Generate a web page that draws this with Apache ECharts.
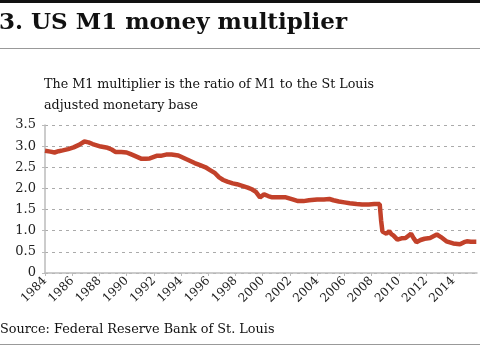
<!DOCTYPE html>
<html><head><meta charset="utf-8">
<script src="https://cdn.jsdelivr.net/npm/echarts@6/dist/echarts.min.js"></script>
<style>html,body{margin:0;padding:0;background:#fff}#c{width:480px;height:349px}</style>
</head><body><div id="c"></div>
<script>
const titleText = "3. US M1 money multiplier";
const subtitleText = "The M1 multiplier is the ratio of M1 to the St Louis\nadjusted monetary base";
const sourceText = "Source: Federal Reserve Bank of St. Louis";
const yTicks = [0, 0.5, 1.0, 1.5, 2.0, 2.5, 3.0, 3.5];
const xTicks = [1984,1986,1988,1990,1992,1994,1996,1998,2000,2002,2004,2006,2008,2010,2012,2014];
const years = [1984.0,1984.4,1984.7,1985.0,1985.3,1985.7,1986.1,1986.5,1986.9,1987.2,1987.5,1987.8,1988.1,1988.6,1988.9,1989.2,1989.6,1990.0,1990.3,1990.6,1991.1,1991.4,1991.7,1992.2,1992.5,1992.9,1993.3,1993.8,1994.2,1994.6,1995.0,1995.4,1995.8,1996.1,1996.5,1996.8,1997.1,1997.4,1997.8,1998.1,1998.5,1998.9,1999.2,1999.5,1999.8,2000.1,2000.4,2000.7,2001.2,2001.7,2002.2,2002.6,2003.0,2003.4,2004.0,2004.5,2004.9,2005.2,2005.6,2006.0,2006.4,2006.9,2007.3,2007.8,2008.2,2008.6,2008.7,2008.8,2008.9,2009.1,2009.3,2009.45,2009.6,2009.9,2010.2,2010.5,2010.9,2011.1,2011.3,2011.6,2011.9,2012.3,2012.8,2013.1,2013.5,2014.0,2014.5,2014.8,2015.0,2015.3,2015.7];
const multiplier = [2.89,2.87,2.85,2.88,2.90,2.93,2.97,3.03,3.11,3.09,3.05,3.02,2.99,2.96,2.92,2.86,2.86,2.85,2.81,2.77,2.70,2.70,2.71,2.77,2.77,2.80,2.80,2.78,2.72,2.66,2.60,2.55,2.50,2.44,2.36,2.26,2.20,2.16,2.12,2.10,2.06,2.02,1.98,1.92,1.79,1.86,1.82,1.79,1.79,1.79,1.74,1.70,1.70,1.72,1.74,1.74,1.75,1.72,1.69,1.67,1.65,1.63,1.62,1.62,1.63,1.63,1.25,0.98,0.94,0.93,0.99,0.92,0.89,0.79,0.82,0.83,0.93,0.82,0.73,0.78,0.81,0.83,0.91,0.85,0.75,0.70,0.68,0.73,0.75,0.74,0.74];

const F = "'DejaVu Serif', serif";
const chart = echarts.init(document.getElementById('c'), null, {renderer:'canvas'});
chart.setOption({
  animation:false,
  backgroundColor:'#fff',
  title:[
    {text:titleText, left:-6, top:7, textStyle:{fontFamily:F, fontWeight:'bold', fontSize:23, color:'#111'}},
    {text:subtitleText, left:39, top:69, textStyle:{fontFamily:F, fontWeight:'normal', fontSize:12.7, color:'#111', lineHeight:21}},
    {text:sourceText, left:-5, top:318, textStyle:{fontFamily:F, fontWeight:'normal', fontSize:12.8, color:'#111'}}
  ],
  graphic:[
    {type:'rect', shape:{x:0,y:0,width:480,height:3}, style:{fill:'#111'}},
    {type:'rect', shape:{x:0,y:48,width:480,height:1}, style:{fill:'#999'}},
    {type:'rect', shape:{x:0,y:344,width:480,height:1}, style:{fill:'#999'}}
  ],
  grid:{left:45, right:3, top:125, bottom:76},
  xAxis:{type:'value', min:1984, max:2015.75, interval:2,
    axisLine:{lineStyle:{color:'#bbb', width:1.5}},
    axisTick:{show:true, length:3, lineStyle:{color:'#bbb'}},
    splitLine:{show:false},
    axisLabel:{rotate:45, showMaxLabel:false, margin:6, fontFamily:F, fontSize:12, color:'#222',
      formatter:v=> xTicks.includes(v) ? String(v) : ''}},
  yAxis:{type:'value', min:0, max:3.5, interval:0.5,
    axisLine:{show:true, lineStyle:{color:'#bbb', width:1.5}},
    axisTick:{show:true, length:3, lineStyle:{color:'#bbb'}},
    splitLine:{show:true, lineStyle:{color:'#aaa', type:[3,4], width:1}},
    axisLabel:{margin:9, fontFamily:F, fontSize:13, color:'#222',
      formatter:v=> v===0 ? '0' : (yTicks.includes(v) ? v.toFixed(1) : '')}},
  series:[{type:'line', data:years.map((y,i)=>[y,multiplier[i]]), showSymbol:false,
    lineStyle:{color:'#c2412a', width:4.5}, smooth:false}]
});
</script></body></html>
